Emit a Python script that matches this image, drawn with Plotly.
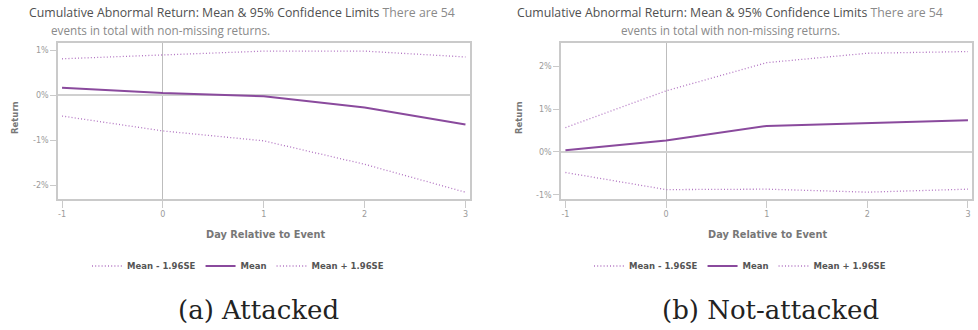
import plotly.graph_objects as go

# Event window (days relative to the event)
days = [-1, 0, 1, 2, 3]

# Cumulative abnormal returns, in percent
attacked_lower = [-0.46, -0.79, -1.01, -1.53, -2.15]
attacked_mean = [0.17, 0.05, -0.02, -0.27, -0.65]
attacked_upper = [0.81, 0.89, 0.98, 0.98, 0.85]

not_attacked_lower = [-0.48, -0.88, -0.87, -0.94, -0.87]
not_attacked_mean = [0.04, 0.27, 0.61, 0.67, 0.74]
not_attacked_upper = [0.57, 1.43, 2.09, 2.31, 2.35]

series_names = ["Mean - 1.96SE", "Mean", "Mean + 1.96SE"]

x_tick_vals = [-1, 0, 1, 2, 3]
x_tick_text = ["-1", "0", "1", "2", "3"]
y_tick_vals_a = [-2, -1, 0, 1]
y_tick_text_a = ["-2%", "-1%", "0%", "1%"]
y_tick_vals_b = [-1, 0, 1, 2]
y_tick_text_b = ["-1%", "0%", "1%", "2%"]

title_main = "Cumulative Abnormal Return: Mean & 95% Confidence Limits"
title_tail_1 = "There are 54"
title_tail_2 = "events in total with non-missing returns."
x_title = "Day Relative to Event"
y_title = "Return"
captions = ["(a) Attacked", "(b) Not-attacked"]

W, H = 978, 330
MEAN_COLOR = "#8a4a9d"
BAND_COLOR = "#b274c2"
FRAME = "#cacaca"
TICK_FONT = dict(family="DejaVu Sans", size=8, color="#9a9a9a")


def px(x):
    return x / W


def py(y):
    return 1 - y / H


fig = go.Figure()

panels = [
    dict(lower=attacked_lower, mean=attacked_mean, upper=attacked_upper,
         xa="x", ya="y", legend="legend"),
    dict(lower=not_attacked_lower, mean=not_attacked_mean, upper=not_attacked_upper,
         xa="x2", ya="y2", legend="legend2"),
]

for p in panels:
    for name, vals in zip(series_names, [p["lower"], p["mean"], p["upper"]]):
        is_mean = name == "Mean"
        fig.add_trace(go.Scatter(
            x=days, y=vals, name=name, mode="lines",
            line=dict(color=MEAN_COLOR if is_mean else BAND_COLOR,
                      width=2 if is_mean else 1.3,
                      dash="solid" if is_mean else "1px,2.2px"),
            xaxis=p["xa"], yaxis=p["ya"], legend=p["legend"],
        ))

common_x = dict(
    tickmode="array", tickvals=x_tick_vals, ticktext=x_tick_text,
    showgrid=False, zeroline=True, zerolinecolor="#bdbdbd", zerolinewidth=1,
    showline=True, linecolor=FRAME, linewidth=1.5, mirror=True,
    ticks="outside", ticklen=7, tickcolor=FRAME, tickwidth=1,
    tickfont=TICK_FONT, fixedrange=True,
)
common_y = dict(
    showgrid=False, zeroline=True, zerolinecolor="#d0d0d0", zerolinewidth=1.6,
    showline=True, linecolor=FRAME, linewidth=1.5, mirror=True,
    ticks="outside", ticklen=6, tickcolor=FRAME, tickwidth=1,
    tickfont=TICK_FONT, fixedrange=True,
)

LEGEND_FONT = dict(family="DejaVu Sans", size=8.5, color="#555555", weight="bold")

fig.update_layout(
    width=W, height=H,
    margin=dict(l=0, r=0, t=0, b=0),
    paper_bgcolor="white", plot_bgcolor="white",
    xaxis=dict(common_x, domain=[px(58), px(470)], range=[-1.04, 3.045], anchor="y"),
    yaxis=dict(common_y, domain=[py(199), py(43)], range=[-2.30, 1.16], anchor="x",
               tickmode="array", tickvals=y_tick_vals_a, ticktext=y_tick_text_a),
    xaxis2=dict(common_x, domain=[px(561), px(972)], range=[-1.044, 3.04], anchor="y2"),
    yaxis2=dict(common_y, domain=[py(199), py(43)], range=[-1.10, 2.55], anchor="x2",
                tickmode="array", tickvals=y_tick_vals_b, ticktext=y_tick_text_b),
    legend=dict(orientation="h", x=px(238), y=py(266), xanchor="center", yanchor="middle",
                font=LEGEND_FONT, bgcolor="rgba(0,0,0,0)", itemwidth=30, tracegroupgap=0),
    legend2=dict(orientation="h", x=px(740), y=py(266), xanchor="center", yanchor="middle",
                 font=LEGEND_FONT, bgcolor="rgba(0,0,0,0)", itemwidth=30, tracegroupgap=0),
    showlegend=True,
)

TITLE_FONT = dict(family="Open Sans", size=12.3, color="#505050")
TAIL_FONT = dict(family="Open Sans", size=11.7, color="#8a8a8a")
title_line1 = (f"<span style='color:#505050'>{title_main}</span> "
               f"<span style='color:#8a8a8a'>{title_tail_1}</span>")

annotations = [
    # panel (a) title, hanging indent on second line
    dict(x=px(27), y=py(12), xanchor="left", yanchor="middle", text=title_line1, font=TITLE_FONT),
    dict(x=px(49), y=py(30), xanchor="left", yanchor="middle", text=title_tail_2, font=TAIL_FONT),
    # panel (b) title, centred
    dict(x=px(730), y=py(12), xanchor="center", yanchor="middle", text=title_line1, font=TITLE_FONT),
    dict(x=px(730), y=py(30), xanchor="center", yanchor="middle", text=title_tail_2, font=TAIL_FONT),
]

axis_title_font = dict(family="DejaVu Sans", size=8.5, color="#777777", weight="bold")
for cx, rx in [(265, 15), (767, 519)]:
    annotations.append(dict(x=px(cx), y=py(234), xanchor="center", yanchor="middle",
                            text=x_title, font=dict(axis_title_font, size=9.8)))
    annotations.append(dict(x=px(rx), y=py(118), xanchor="center", yanchor="middle",
                            text=y_title, textangle=-90, font=axis_title_font))

for cx, cap in zip([258, 770], captions):
    annotations.append(dict(x=px(cx), y=py(310), xanchor="center", yanchor="middle",
                            text=cap, font=dict(family="DejaVu Serif", size=26, color="#222222")))

for a in annotations:
    a.update(xref="paper", yref="paper", showarrow=False)
fig.update_layout(annotations=annotations)

fig.write_html("out.html")
